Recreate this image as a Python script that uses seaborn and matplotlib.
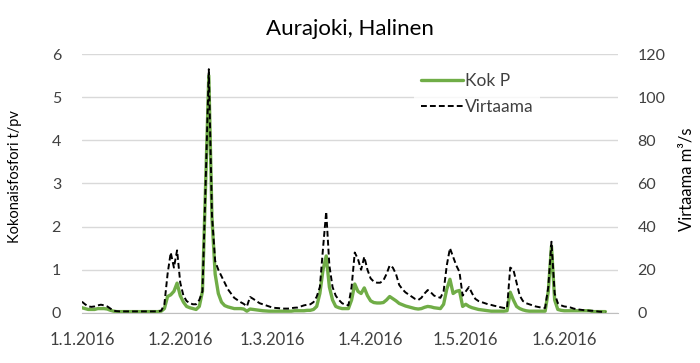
import numpy as np
import pandas as pd
import seaborn as sns
import matplotlib.pyplot as plt
import matplotlib.dates as mdates
from matplotlib.lines import Line2D

# daily values 1.1.2016 - 14.6.2016
virtaama_jan = [5.2, 4.0, 3.0, 2.8, 3.0, 3.5, 3.8, 3.5, 3.0, 2.0, 1.0, 0.8,
                0.7, 0.7, 0.7, 0.7, 0.7, 0.7, 0.7, 0.7, 0.7, 0.7, 0.7, 0.7, 0.7,
                1.0, 4.0, 18, 28, 21, 29]
virtaama_feb = [14, 8, 5.5, 4.5, 4, 4, 6, 10, 60, 113, 45, 24, 20, 17, 14, 11,
                9, 7, 6, 5, 4.2, 3, 7.4, 6.5, 5.5, 4.5, 4, 3.5, 3]
virtaama_mar = [2.5, 2.3, 2.2, 2, 2, 2, 2.2, 2.4, 2.5, 3, 3.5, 3.8, 4, 5, 7.5,
                12, 30, 47, 22, 12, 8, 6, 4.5, 3.8, 3.5, 12, 28, 25, 20, 26, 20]
virtaama_apr = [16, 14.5, 14, 14, 15, 18, 22, 21, 18, 13, 11, 9.5, 8.5, 7.5, 6.5,
                6, 7, 9, 10.6, 9.5, 8, 7.5, 7, 10, 22, 30, 26, 22, 19, 8]
virtaama_may = [10, 12, 9, 6.5, 5.5, 5, 4.5, 4, 3.7, 3.3, 3, 2.6, 2.3, 2.2, 21,
                20, 14, 8, 5.5, 4.5, 4, 3.5, 3, 2.7, 2.4, 2.3, 12, 33, 9, 4.5, 3.5]
virtaama_jun = [3, 2.8, 2.5, 2, 1.7, 1.5, 1.3, 1.2, 1, 1, 0.8, 0.6, 0.5, 0.4]

kokp_jan = [0.12, 0.1, 0.08, 0.08, 0.08, 0.1, 0.1, 0.1, 0.09, 0.06, 0.04, 0.03,
            0.03, 0.03, 0.03, 0.03, 0.03, 0.03, 0.03, 0.03, 0.03, 0.03, 0.03, 0.03, 0.03,
            0.04, 0.1, 0.38, 0.42, 0.5, 0.69]
kokp_feb = [0.4, 0.25, 0.15, 0.12, 0.1, 0.08, 0.15, 0.5, 3.0, 5.5, 2.2, 0.9,
            0.45, 0.25, 0.17, 0.14, 0.12, 0.1, 0.1, 0.1, 0.09, 0.04, 0.09, 0.08,
            0.07, 0.06, 0.05, np.nan, 0.04]
kokp_mar = [0.04, 0.04, 0.04, 0.04, 0.04, 0.04, 0.04, 0.05, 0.05, 0.05, 0.05,
            0.06, 0.06, 0.08, 0.15, 0.45, 1.0, 1.32, 0.6, 0.3, 0.15, 0.12, 0.1,
            0.1, 0.1, 0.3, 0.67, 0.5, 0.45, 0.58, 0.4]
kokp_apr = [0.28, 0.24, 0.23, 0.23, 0.24, 0.3, 0.38, 0.33, 0.28, 0.22, 0.19,
            0.16, 0.14, 0.12, 0.1, 0.09, 0.1, 0.13, 0.15, 0.14, 0.12, 0.11, 0.1,
            0.2, 0.55, 0.78, 0.45, 0.5, 0.52, 0.15]
kokp_may = [0.2, 0.15, 0.12, 0.1, 0.08, 0.07, 0.06, 0.05, 0.04, 0.04, 0.04, 0.04,
            0.04, 0.05, 0.48, 0.3, 0.15, 0.1, 0.07, 0.05, 0.04, 0.04, 0.04, 0.04,
            0.04, 0.04, 0.5, 1.55, 0.3, 0.08, 0.06]
kokp_jun = [0.05, 0.05, 0.05, 0.05, 0.05, 0.05, 0.05, 0.05, 0.05,
            0.03, 0.03, 0.03, 0.03, 0.03]

virtaama = virtaama_jan + virtaama_feb + virtaama_mar + virtaama_apr + virtaama_may + virtaama_jun
kokp = kokp_jan + kokp_feb + kokp_mar + kokp_apr + kokp_may + kokp_jun
dates = pd.date_range("2016-01-01", periods=len(virtaama), freq="D")
df = pd.DataFrame({"pvm": dates, "Kok P": kokp, "Virtaama": virtaama})

sns.set_style("white")
plt.rcParams["font.family"] = ["Lato", "DejaVu Sans"]

green = "#70ad47"
txt = "#404040"
dash = (0, (3, 1.6))

fig, ax = plt.subplots(figsize=(7, 3.63), dpi=100)
fig.subplots_adjust(left=0.117, right=0.883, bottom=0.138, top=0.851)
ax2 = ax.twinx()

sns.lineplot(data=df, x="pvm", y="Kok P", ax=ax, color=green, lw=2.4)
sns.lineplot(data=df, x="pvm", y="Virtaama", ax=ax2, color="black", lw=1.4,
             linestyle=dash)

ax.set_ylim(0, 6)
ax2.set_ylim(0, 120)
ax.set_xlim(pd.Timestamp("2016-01-01"), pd.Timestamp("2016-06-18"))
ax.set_yticks(range(0, 7))
ax2.set_yticks(range(0, 121, 20))

ax.xaxis.set_major_locator(mdates.MonthLocator())
ax.xaxis.set_major_formatter(plt.FuncFormatter(
    lambda v, p: "{d.day}.{d.month}.{d.year}".format(d=mdates.num2date(v))))

ax.yaxis.grid(True, color="#d9d9d9", lw=1)
ax.set_axisbelow(True)
for a in (ax, ax2):
    for s in ("top", "left", "right"):
        a.spines[s].set_visible(False)
    a.spines["bottom"].set_color("#bfbfbf")
ax2.spines["bottom"].set_visible(False)

ax.tick_params(axis="x", length=5, color="#bfbfbf", pad=9, labelsize=12, labelcolor=txt)
ax.tick_params(axis="y", length=0, pad=15, labelsize=11.5, labelcolor=txt)
ax2.tick_params(axis="y", length=0, pad=14, labelsize=11.5, labelcolor=txt)

ax.set_xlabel("")
ax.set_ylabel("Kokonaisfosfori t/pv", fontsize=10.5, color="black")
ax.yaxis.set_label_coords(-0.112, 0.525)
ax2.set_ylabel("Virtaama m³/s", fontsize=12, color="black", rotation=90)
ax2.yaxis.set_label_coords(1.112, 0.515)
ax.set_title("Aurajoki, Halinen", fontsize=16, color="black", pad=14)

handles = [Line2D([], [], color=green, lw=2.4),
           Line2D([], [], color="black", lw=1.4, linestyle=dash)]
leg = ax2.legend(handles, ["Kok P", "Virtaama"], loc="upper left",
                 bbox_to_anchor=(0.62, 0.955), frameon=True, fontsize=12.5,
                 handlelength=2.4, handletextpad=0.1, labelspacing=0.6, borderaxespad=0)
leg.get_frame().set_facecolor("white")
leg.get_frame().set_edgecolor("none")
for t in leg.get_texts():
    t.set_color(txt)

fig.savefig("out.png", dpi=100)
